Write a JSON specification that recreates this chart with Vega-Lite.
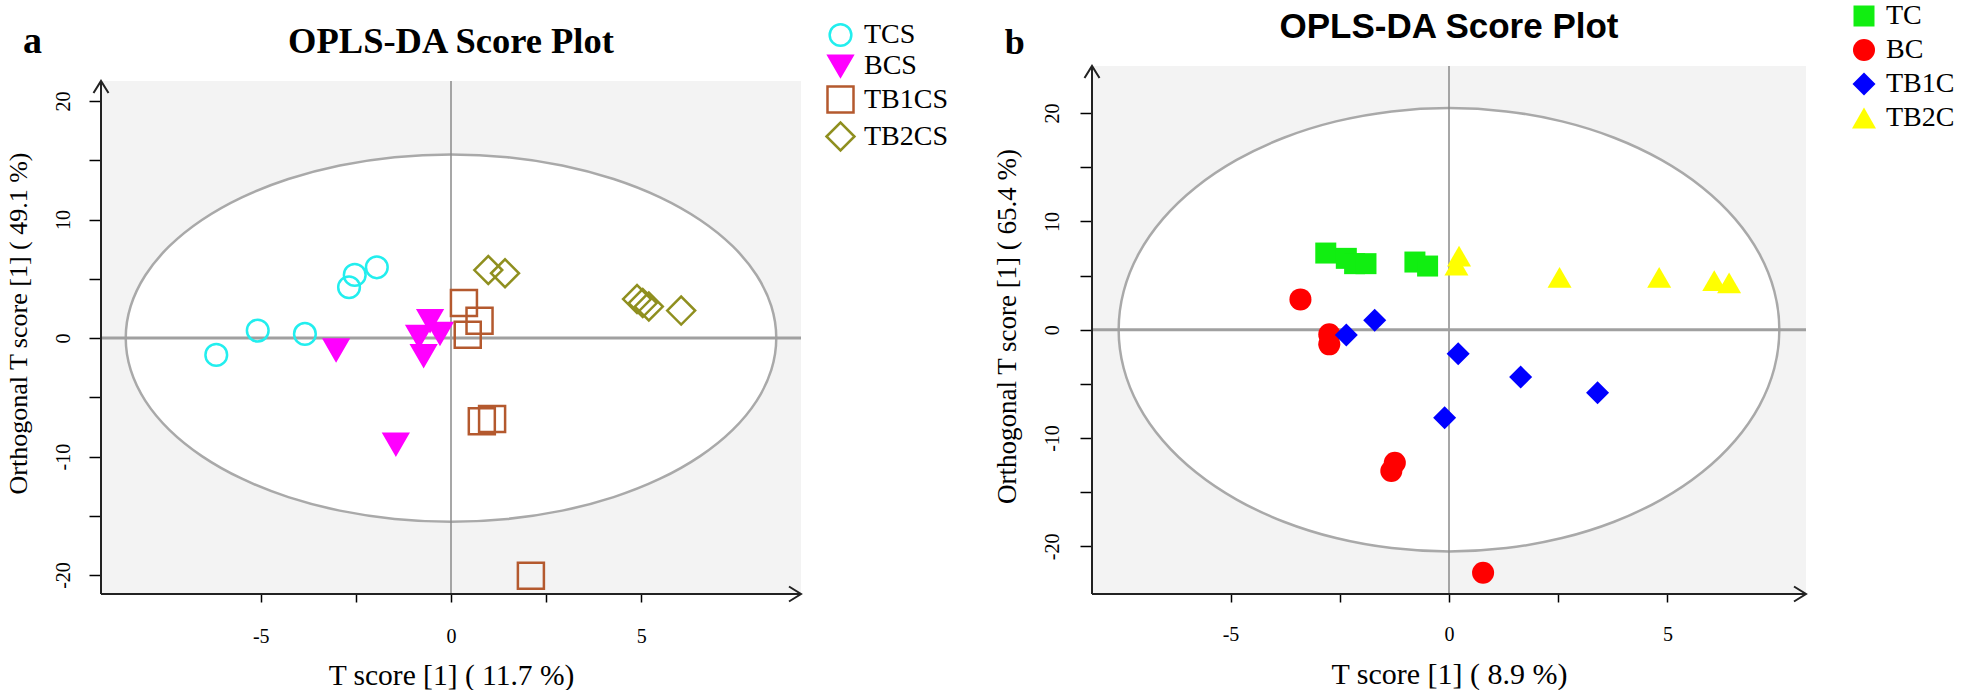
{
  "$schema": "https://vega.github.io/schema/vega-lite/v6.json",
  "padding": {"left": 4, "top": 2, "right": 0, "bottom": 0},
  "background": "white",
  "spacing": 291,
  "bounds": "flush",
  "config": {
    "view": {"stroke": null},
    "axis": {"domain": false, "grid": false, "tickColor": "black", "tickWidth": 1.5, "labelFont": "Liberation Serif", "labelFontSize": 20, "labelColor": "black", "titleFont": "Liberation Serif", "titleColor": "black", "titleFontWeight": "normal"},
    "legend": {"title": null, "labelFont": "Liberation Serif", "labelFontSize": 28, "labelColor": "black", "labelOffset": 8, "symbolStrokeWidth": 2.5}
  },
  "datasets": {
    "a_pts": [
      {"group": "TCS", "x": -6.17, "y": -1.42}, {"group": "TCS", "x": -5.08, "y": 0.63}, {"group": "TCS", "x": -3.84, "y": 0.35},
      {"group": "TCS", "x": -2.68, "y": 4.29}, {"group": "TCS", "x": -2.53, "y": 5.33}, {"group": "TCS", "x": -1.95, "y": 5.97},
      {"group": "BCS", "x": -3.02, "y": -1.0}, {"group": "BCS", "x": -0.55, "y": 1.47}, {"group": "BCS", "x": -0.29, "y": 0.4},
      {"group": "BCS", "x": -0.84, "y": 0.14}, {"group": "BCS", "x": -0.72, "y": -1.48}, {"group": "BCS", "x": -1.45, "y": -8.95},
      {"group": "TB1CS", "x": 0.34, "y": 2.95}, {"group": "TB1CS", "x": 0.75, "y": 1.47}, {"group": "TB1CS", "x": 0.44, "y": 0.28},
      {"group": "TB1CS", "x": 0.81, "y": -7.02}, {"group": "TB1CS", "x": 1.08, "y": -6.84}, {"group": "TB1CS", "x": 2.1, "y": -20.05},
      {"group": "TB2CS", "x": 0.98, "y": 5.74}, {"group": "TB2CS", "x": 1.42, "y": 5.47}, {"group": "TB2CS", "x": 4.89, "y": 3.29},
      {"group": "TB2CS", "x": 5.04, "y": 2.95}, {"group": "TB2CS", "x": 5.2, "y": 2.66}, {"group": "TB2CS", "x": 6.05, "y": 2.32}
    ],
    "b_pts": [
      {"group": "TC", "x": -2.82, "y": 7.08}, {"group": "TC", "x": -2.35, "y": 6.59}, {"group": "TC", "x": -2.16, "y": 6.1},
      {"group": "TC", "x": -1.9, "y": 6.1}, {"group": "TC", "x": -0.78, "y": 6.25}, {"group": "TC", "x": -0.49, "y": 5.88},
      {"group": "BC", "x": -3.4, "y": 2.8}, {"group": "BC", "x": -2.74, "y": -0.43}, {"group": "BC", "x": -2.74, "y": -1.35},
      {"group": "BC", "x": -1.24, "y": -12.28}, {"group": "BC", "x": -1.32, "y": -13.05}, {"group": "BC", "x": 0.78, "y": -22.44},
      {"group": "TB1C", "x": -2.35, "y": -0.49}, {"group": "TB1C", "x": -1.7, "y": 0.87}, {"group": "TB1C", "x": 0.21, "y": -2.22},
      {"group": "TB1C", "x": 1.64, "y": -4.37}, {"group": "TB1C", "x": 3.4, "y": -5.82}, {"group": "TB1C", "x": -0.1, "y": -8.13},
      {"group": "TB2C", "x": 0.23, "y": 6.8}, {"group": "TB2C", "x": 0.17, "y": 5.97}, {"group": "TB2C", "x": 2.53, "y": 4.84},
      {"group": "TB2C", "x": 4.81, "y": 4.84}, {"group": "TB2C", "x": 6.07, "y": 4.54}, {"group": "TB2C", "x": 6.41, "y": 4.33}
    ],
    "a_ell": [
      {"i": 0, "ex": 8.55, "ey": 0}, {"i": 1, "ex": 8.42, "ey": 2.691}, {"i": 2, "ex": 8.034, "ey": 5.301}, {"i": 3, "ex": 7.404, "ey": 7.75},
      {"i": 4, "ex": 6.549, "ey": 9.963}, {"i": 5, "ex": 5.496, "ey": 11.873}, {"i": 6, "ex": 4.275, "ey": 13.423}, {"i": 7, "ex": 2.924, "ey": 14.565},
      {"i": 8, "ex": 1.484, "ey": 15.264}, {"i": 9, "ex": 0, "ey": 15.5}, {"i": 10, "ex": -1.484, "ey": 15.264}, {"i": 11, "ex": -2.924, "ey": 14.565},
      {"i": 12, "ex": -4.275, "ey": 13.423}, {"i": 13, "ex": -5.496, "ey": 11.873}, {"i": 14, "ex": -6.549, "ey": 9.963}, {"i": 15, "ex": -7.404, "ey": 7.75},
      {"i": 16, "ex": -8.034, "ey": 5.301}, {"i": 17, "ex": -8.42, "ey": 2.691}, {"i": 18, "ex": -8.55, "ey": 0}, {"i": 19, "ex": -8.42, "ey": -2.691},
      {"i": 20, "ex": -8.034, "ey": -5.301}, {"i": 21, "ex": -7.404, "ey": -7.75}, {"i": 22, "ex": -6.549, "ey": -9.963}, {"i": 23, "ex": -5.496, "ey": -11.873},
      {"i": 24, "ex": -4.275, "ey": -13.423}, {"i": 25, "ex": -2.924, "ey": -14.565}, {"i": 26, "ex": -1.484, "ey": -15.264}, {"i": 27, "ex": 0, "ey": -15.5},
      {"i": 28, "ex": 1.484, "ey": -15.264}, {"i": 29, "ex": 2.924, "ey": -14.565}, {"i": 30, "ex": 4.275, "ey": -13.423}, {"i": 31, "ex": 5.496, "ey": -11.873},
      {"i": 32, "ex": 6.549, "ey": -9.963}, {"i": 33, "ex": 7.404, "ey": -7.75}, {"i": 34, "ex": 8.034, "ey": -5.301}, {"i": 35, "ex": 8.42, "ey": -2.691}
    ],
    "b_ell": [
      {"i": 0, "ex": 7.56, "ey": 0}, {"i": 1, "ex": 7.445, "ey": 3.554}, {"i": 2, "ex": 7.104, "ey": 7.001}, {"i": 3, "ex": 6.547, "ey": 10.235},
      {"i": 4, "ex": 5.791, "ey": 13.158}, {"i": 5, "ex": 4.86, "ey": 15.68}, {"i": 6, "ex": 3.78, "ey": 17.727}, {"i": 7, "ex": 2.586, "ey": 19.236},
      {"i": 8, "ex": 1.312, "ey": 20.159}, {"i": 9, "ex": 0, "ey": 20.47}, {"i": 10, "ex": -1.312, "ey": 20.159}, {"i": 11, "ex": -2.586, "ey": 19.236},
      {"i": 12, "ex": -3.78, "ey": 17.727}, {"i": 13, "ex": -4.86, "ey": 15.68}, {"i": 14, "ex": -5.791, "ey": 13.158}, {"i": 15, "ex": -6.547, "ey": 10.235},
      {"i": 16, "ex": -7.104, "ey": 7.001}, {"i": 17, "ex": -7.445, "ey": 3.554}, {"i": 18, "ex": -7.56, "ey": 0}, {"i": 19, "ex": -7.445, "ey": -3.554},
      {"i": 20, "ex": -7.104, "ey": -7.001}, {"i": 21, "ex": -6.547, "ey": -10.235}, {"i": 22, "ex": -5.791, "ey": -13.158}, {"i": 23, "ex": -4.86, "ey": -15.68},
      {"i": 24, "ex": -3.78, "ey": -17.727}, {"i": 25, "ex": -2.586, "ey": -19.236}, {"i": 26, "ex": -1.312, "ey": -20.159}, {"i": 27, "ex": 0, "ey": -20.47},
      {"i": 28, "ex": 1.312, "ey": -20.159}, {"i": 29, "ex": 2.586, "ey": -19.236}, {"i": 30, "ex": 3.78, "ey": -17.727}, {"i": 31, "ex": 4.86, "ey": -15.68},
      {"i": 32, "ex": 5.791, "ey": -13.158}, {"i": 33, "ex": 6.547, "ey": -10.235}, {"i": 34, "ex": 7.104, "ey": -7.001}, {"i": 35, "ex": 7.445, "ey": -3.554}
    ]
  },
  "resolve": {
    "scale": {"x": "independent", "y": "independent", "color": "independent", "fill": "independent", "stroke": "independent", "shape": "independent", "size": "independent"},
    "legend": {"color": "independent", "fill": "independent", "stroke": "independent", "shape": "independent", "size": "independent"}
  },
  "hconcat": [
    {
      "width": 700,
      "height": 528,
      "layer": [
        {
          "data": {"values": [{}]},
          "mark": {"type": "rect", "fill": "#f3f3f3"},
          "encoding": {
            "x": {"datum": -9.2, "type": "quantitative", "scale": {"domain": [-9.2, 9.2], "nice": false, "zero": false}},
            "x2": {"datum": 9.2},
            "y": {"datum": -21.6, "type": "quantitative", "scale": {"domain": [-21.6, 22.96], "nice": false, "zero": false}},
            "y2": {"datum": 21.7}
          }
        },
        {
          "data": {"name": "a_ell"},
          "mark": {"type": "line", "interpolate": "cardinal-closed", "fill": "white", "stroke": "#a9a9a9", "strokeWidth": 2.5},
          "encoding": {
            "x": {"field": "ex", "type": "quantitative"},
            "y": {"field": "ey", "type": "quantitative"},
            "order": {"field": "i", "type": "quantitative"}
          }
        },
        {
          "data": {"values": [{}]},
          "mark": {"type": "rule", "stroke": "#8a8a8a", "strokeWidth": 1.5},
          "encoding": {
            "x": {"datum": 0, "type": "quantitative"},
            "y": {"datum": -21.6, "type": "quantitative"},
            "y2": {"datum": 21.7}
          }
        },
        {
          "data": {"values": [{}]},
          "mark": {"type": "rule", "stroke": "#a0a0a0", "strokeWidth": 3},
          "encoding": {
            "y": {"datum": 0, "type": "quantitative"},
            "x": {"datum": -9.2, "type": "quantitative"},
            "x2": {"datum": 9.2}
          }
        },
        {
          "data": {"values": [{}]},
          "mark": {"type": "rule", "stroke": "#222222", "strokeWidth": 2},
          "encoding": {
            "x": {"datum": -9.2, "type": "quantitative"},
            "y": {"datum": -21.6, "type": "quantitative"},
            "y2": {"datum": 21.7}
          }
        },
        {
          "data": {"values": [{}]},
          "mark": {"type": "rule", "stroke": "#222222", "strokeWidth": 2},
          "encoding": {
            "y": {"datum": -21.6, "type": "quantitative"},
            "x": {"datum": -9.2, "type": "quantitative"},
            "x2": {"datum": 9.2}
          }
        },
        {
          "data": {"values": [{}]},
          "mark": {"type": "point", "shape": "M -1 1.6 L 0 0 L 1 1.6", "size": 225, "filled": false, "stroke": "#222222", "strokeWidth": 2, "opacity": 1},
          "encoding": {
            "x": {"datum": -9.2, "type": "quantitative"},
            "y": {"datum": 21.7, "type": "quantitative"}
          }
        },
        {
          "data": {"values": [{}]},
          "mark": {"type": "point", "shape": "M -1.6 -1 L 0 0 L -1.6 1", "size": 225, "filled": false, "stroke": "#222222", "strokeWidth": 2, "opacity": 1},
          "encoding": {
            "x": {"datum": 9.2, "type": "quantitative"},
            "y": {"datum": -21.6, "type": "quantitative"}
          }
        },
        {
          "data": {"name": "a_pts"},
          "mark": {"type": "point", "opacity": 1, "strokeWidth": 2.5},
          "encoding": {
            "x": {"field": "x", "type": "quantitative",
              "axis": {"values": [-5, -2.5, 0, 2.5, 5], "labelExpr": "datum.value % 5 === 0 ? '' + datum.value : ''", "tickSize": 8, "labelPadding": 24, "title": "T score [1] ( 11.7 %)", "titleFontSize": 29.5, "titleBaseline": "alphabetic", "titleAlign": "center", "titleX": 350, "titleY": 90}},
            "y": {"field": "y", "type": "quantitative",
              "axis": {"values": [-20, -15, -10, -5, 0, 5, 10, 15, 20], "labelExpr": "datum.value % 10 === 0 ? '' + datum.value : ''", "tickSize": 12, "labelAngle": 270, "labelAlign": "center", "labelBaseline": "bottom", "labelPadding": 16, "title": "Orthogonal T score [1] ( 49.1 %)", "titleFontSize": 26, "titleAngle": 270, "titleAlign": "center", "titleBaseline": "alphabetic", "titleX": -75, "titleY": 257}},
            "fill": {"field": "group", "type": "nominal", "scale": {"domain": ["TCS", "BCS", "TB1CS", "TB2CS"], "range": ["transparent", "#ff00ff", "transparent", "transparent"]},
              "legend": {"orient": "none", "legendX": 724, "legendY": -45, "rowPadding": -1}},
            "stroke": {"field": "group", "type": "nominal", "scale": {"domain": ["TCS", "BCS", "TB1CS", "TB2CS"], "range": ["#22eeee", "#ff00ff", "#b4592e", "#8f8f1f"]},
              "legend": {"orient": "none", "legendX": 724, "legendY": -45, "rowPadding": -1}},
            "shape": {"field": "group", "type": "nominal", "scale": {"domain": ["TCS", "BCS", "TB1CS", "TB2CS"], "range": ["circle", "triangle-down", "square", "diamond"]},
              "legend": {"orient": "none", "legendX": 724, "legendY": -45, "rowPadding": -1}},
            "size": {"field": "group", "type": "nominal", "scale": {"domain": ["TCS", "BCS", "TB1CS", "TB2CS"], "range": [470, 780, 400, 740]},
              "legend": {"orient": "none", "legendX": 724, "legendY": -45, "rowPadding": -1}}
          }
        },
        {
          "data": {"values": [{}]},
          "mark": {"type": "text", "text": "a", "font": "Liberation Serif", "fontSize": 38, "fontWeight": "bold", "color": "black", "align": "center", "baseline": "alphabetic"},
          "encoding": {
            "x": {"datum": -11.0, "type": "quantitative"},
            "y": {"datum": 24.05, "type": "quantitative"}
          }
        },
        {
          "data": {"values": [{}]},
          "mark": {"type": "text", "text": "OPLS-DA Score Plot", "font": "Liberation Serif", "fontSize": 36.5, "fontWeight": "bold", "color": "black", "align": "center", "baseline": "alphabetic"},
          "encoding": {
            "x": {"datum": 0, "type": "quantitative"},
            "y": {"datum": 24.06, "type": "quantitative"}
          }
        }
      ]
    },
    {
      "width": 714,
      "height": 528,
      "layer": [
        {
          "data": {"values": [{}]},
          "mark": {"type": "rect", "fill": "#f3f3f3"},
          "encoding": {
            "x": {"datum": -8.17, "type": "quantitative", "scale": {"domain": [-8.17, 8.17], "nice": false, "zero": false}},
            "x2": {"datum": 8.17},
            "y": {"datum": -24.4, "type": "quantitative", "scale": {"domain": [-24.4, 24.35], "nice": false, "zero": false}},
            "y2": {"datum": 24.35}
          }
        },
        {
          "data": {"name": "b_ell"},
          "mark": {"type": "line", "interpolate": "cardinal-closed", "fill": "white", "stroke": "#a9a9a9", "strokeWidth": 2.5},
          "encoding": {
            "x": {"field": "ex", "type": "quantitative"},
            "y": {"field": "ey", "type": "quantitative"},
            "order": {"field": "i", "type": "quantitative"}
          }
        },
        {
          "data": {"values": [{}]},
          "mark": {"type": "rule", "stroke": "#8a8a8a", "strokeWidth": 1.5},
          "encoding": {
            "x": {"datum": 0, "type": "quantitative"},
            "y": {"datum": -24.4, "type": "quantitative"},
            "y2": {"datum": 24.35}
          }
        },
        {
          "data": {"values": [{}]},
          "mark": {"type": "rule", "stroke": "#a0a0a0", "strokeWidth": 3},
          "encoding": {
            "y": {"datum": 0, "type": "quantitative"},
            "x": {"datum": -8.17, "type": "quantitative"},
            "x2": {"datum": 8.17}
          }
        },
        {
          "data": {"values": [{}]},
          "mark": {"type": "rule", "stroke": "#222222", "strokeWidth": 2},
          "encoding": {
            "x": {"datum": -8.17, "type": "quantitative"},
            "y": {"datum": -24.4, "type": "quantitative"},
            "y2": {"datum": 24.35}
          }
        },
        {
          "data": {"values": [{}]},
          "mark": {"type": "rule", "stroke": "#222222", "strokeWidth": 2},
          "encoding": {
            "y": {"datum": -24.4, "type": "quantitative"},
            "x": {"datum": -8.17, "type": "quantitative"},
            "x2": {"datum": 8.17}
          }
        },
        {
          "data": {"values": [{}]},
          "mark": {"type": "point", "shape": "M -1 1.6 L 0 0 L 1 1.6", "size": 225, "filled": false, "stroke": "#222222", "strokeWidth": 2, "opacity": 1},
          "encoding": {
            "x": {"datum": -8.17, "type": "quantitative"},
            "y": {"datum": 24.35, "type": "quantitative"}
          }
        },
        {
          "data": {"values": [{}]},
          "mark": {"type": "point", "shape": "M -1.6 -1 L 0 0 L -1.6 1", "size": 225, "filled": false, "stroke": "#222222", "strokeWidth": 2, "opacity": 1},
          "encoding": {
            "x": {"datum": 8.17, "type": "quantitative"},
            "y": {"datum": -24.4, "type": "quantitative"}
          }
        },
        {
          "data": {"name": "b_pts"},
          "mark": {"type": "point", "filled": true, "opacity": 1},
          "encoding": {
            "x": {"field": "x", "type": "quantitative",
              "axis": {"values": [-5, -2.5, 0, 2.5, 5], "labelExpr": "datum.value % 5 === 0 ? '' + datum.value : ''", "tickSize": 8, "labelPadding": 22, "title": "T score [1] ( 8.9 %)", "titleFontSize": 30, "titleBaseline": "alphabetic", "titleAlign": "center", "titleX": 357, "titleY": 89}},
            "y": {"field": "y", "type": "quantitative",
              "axis": {"values": [-20, -15, -10, -5, 0, 5, 10, 15, 20], "labelExpr": "datum.value % 10 === 0 ? '' + datum.value : ''", "tickSize": 12, "labelAngle": 270, "labelAlign": "center", "labelBaseline": "bottom", "labelPadding": 18, "title": "Orthogonal T score [1] ( 65.4 %)", "titleFontSize": 27, "titleAngle": 270, "titleAlign": "center", "titleBaseline": "alphabetic", "titleX": -77, "titleY": 260}},
            "color": {"field": "group", "type": "nominal", "scale": {"domain": ["TC", "BC", "TB1C", "TB2C"], "range": ["#11ee11", "#ff0000", "#0000ff", "#ffff00"]},
              "legend": {"orient": "none", "legendX": 758, "legendY": -64, "rowPadding": 6}},
            "shape": {"field": "group", "type": "nominal", "scale": {"domain": ["TC", "BC", "TB1C", "TB2C"], "range": ["square", "circle", "diamond", "triangle-up"]},
              "legend": {"orient": "none", "legendX": 758, "legendY": -64, "rowPadding": 6}},
            "size": {"field": "group", "type": "nominal", "scale": {"domain": ["TC", "BC", "TB1C", "TB2C"], "range": [441, 576, 841, 784]},
              "legend": {"orient": "none", "legendX": 758, "legendY": -64, "rowPadding": 6}}
          }
        },
        {
          "data": {"values": [{}]},
          "mark": {"type": "text", "text": "b", "font": "Liberation Serif", "fontSize": 36, "fontWeight": "bold", "color": "black", "align": "center", "baseline": "alphabetic"},
          "encoding": {
            "x": {"datum": -9.94, "type": "quantitative"},
            "y": {"datum": 25.46, "type": "quantitative"}
          }
        },
        {
          "data": {"values": [{}]},
          "mark": {"type": "text", "text": "OPLS-DA Score Plot", "font": "Liberation Sans", "fontSize": 35, "fontWeight": "bold", "color": "black", "align": "center", "baseline": "alphabetic"},
          "encoding": {
            "x": {"datum": 0, "type": "quantitative"},
            "y": {"datum": 26.94, "type": "quantitative"}
          }
        }
      ]
    }
  ]
}
